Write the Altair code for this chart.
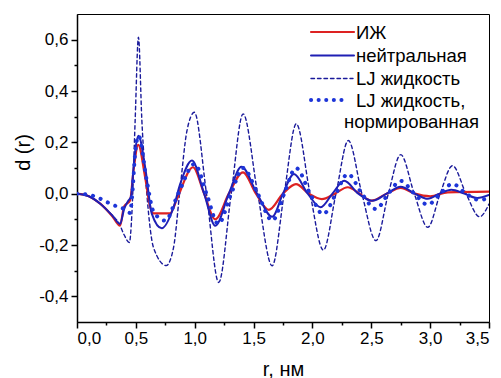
import altair as alt
import pandas as pd

# ---- data ----
series_names = ["ИЖ", "нейтральная", "LJ жидкость", "LJ жидкость, нормированная"]

r_ij = [0.0, 0.1, 0.2, 0.3, 0.366, 0.40, 0.451, 0.48, 0.52, 0.579, 0.622, 0.65, 0.79, 0.85,
        0.985, 1.08, 1.175, 1.29, 1.41, 1.52, 1.63, 1.75, 1.86, 1.97, 2.08, 2.19, 2.30, 2.40,
        2.50, 2.63, 2.75, 2.87, 3.0, 3.15, 3.5]
d_ij = [0.0, -0.01, -0.04, -0.088, -0.125, -0.05, -0.027, 0.09, 0.19, 0.064, -0.053, -0.077, -0.077, -0.02,
        0.103, 0.0, -0.1, 0.0, 0.083, 0.0, -0.063, 0.0, 0.037, 0.0, -0.021, 0.0, 0.025, 0.0,
        -0.027, 0.0, 0.022, 0.0, -0.01, 0.005, 0.008]

r_neu = [0.0, 0.1, 0.2, 0.3, 0.366, 0.40, 0.437, 0.46, 0.48, 0.522, 0.579, 0.636, 0.72, 0.82,
         0.877, 0.977, 1.08, 1.175, 1.29, 1.397, 1.53, 1.658, 1.75, 1.843, 1.96, 2.07, 2.17,
         2.27, 2.39, 2.51, 2.63, 2.75, 2.87, 2.98, 3.08, 3.18, 3.29, 3.40, 3.5]
d_neu = [0.0, -0.01, -0.04, -0.085, -0.118, -0.06, -0.027, -0.01, 0.1, 0.226, 0.103, -0.079, -0.135, -0.053,
         0.038, 0.129, 0.0, -0.125, 0.0, 0.105, 0.0, -0.09, 0.0, 0.077, 0.0, -0.053, 0.0,
         0.05, 0.0, -0.028, 0.0, 0.027, 0.0, -0.02, 0.0, 0.015, 0.0, -0.017, -0.005]

r_lj = [0.0, 0.1, 0.2, 0.3, 0.36, 0.40, 0.445, 0.466, 0.494, 0.522, 0.551, 0.593, 0.65, 0.758,
        0.82, 0.877, 0.934, 0.997, 1.10, 1.204, 1.31, 1.411, 1.535, 1.658, 1.76, 1.863, 1.98,
        2.093, 2.20, 2.305, 2.42, 2.54, 2.645, 2.75, 2.865, 2.98, 3.085, 3.19, 3.305, 3.42, 3.5]
d_lj = [0.0, -0.01, -0.04, -0.085, -0.118, -0.16, -0.19, -0.08, 0.285, 0.61, 0.285, 0.0, -0.21, -0.28,
        -0.21, 0.025, 0.245, 0.317, 0.0, -0.346, 0.0, 0.311, 0.0, -0.281, 0.0, 0.272, 0.0,
        -0.22, 0.0, 0.207, 0.0, -0.183, 0.0, 0.152, 0.0, -0.131, 0.0, 0.109, 0.0, -0.09, -0.04]

r_ljn = [0.0, 0.1, 0.2, 0.3, 0.4, 0.45, 0.47, 0.494, 0.522, 0.593, 0.65, 0.75, 0.86, 1.0,
         1.10, 1.20, 1.31, 1.41, 1.535, 1.66, 1.76, 1.86, 1.98, 2.09, 2.20, 2.30, 2.42, 2.54,
         2.645, 2.75, 2.865, 2.98, 3.085, 3.19, 3.305, 3.42, 3.5]
d_ljn = [0.0, -0.004, -0.02, -0.043, -0.06, -0.075, 0.0, 0.156, 0.226, 0.05, -0.07, -0.105, 0.0, 0.116,
         0.0, -0.118, 0.0, 0.1, 0.0, -0.105, 0.0, 0.1, 0.0, -0.08, 0.0, 0.077, 0.0, -0.06,
         0.0, 0.05, 0.0, -0.043, 0.0, 0.038, 0.0, -0.025, -0.015]

x_ticks = [0.0, 0.25, 0.5, 0.75, 1.0, 1.25, 1.5, 1.75, 2.0, 2.25, 2.5, 2.75, 3.0, 3.25, 3.5]
y_ticks = [-0.4, -0.3, -0.2, -0.1, 0.0, 0.1, 0.2, 0.3, 0.4, 0.5, 0.6]

FONT = "Liberation Sans"

x_enc = alt.X(
    "r:Q",
    scale=alt.Scale(domain=[0, 3.5], nice=False, zero=False),
    axis=alt.Axis(
        values=x_ticks,
        labelExpr="round(datum.value*4) % 2 == 0 ? replace(format(datum.value, '.1f'), '.', ',') : ''",
        tickSize={"condition": {"test": "round(datum.value*4) % 2 == 0", "value": 6}, "value": 3},
        title="r, нм",
        titleY=53,
        titleBaseline="alphabetic",
        labelPadding=2,
        labelOverlap=False,
    ),
)
y_enc = alt.Y(
    "d:Q",
    scale=alt.Scale(domain=[-0.5, 0.7], nice=False, zero=False),
    axis=alt.Axis(
        values=y_ticks,
        labelExpr="round(datum.value*10) % 2 == 0 ? replace(replace(format(datum.value, '.1f'), '.', ','), '\u2212', '-') : ''",
        tickSize={"condition": {"test": "round(datum.value*10) % 2 == 0", "value": 6}, "value": 3},
        title="d (r)",
        titleX=-48,
        titleY=138,
        titleBaseline="alphabetic",
        labelPadding=3,
        labelOverlap=False,
    ),
)


def line(r, d, name, color, width, dash=None):
    df = pd.DataFrame({"r": r, "d": d, "series": name})
    kw = dict(interpolate="monotone", color=color, strokeWidth=width, strokeCap="round", clip=True)
    if dash is not None:
        kw["strokeDash"] = dash
    return alt.Chart(df).mark_line(**kw).encode(x=x_enc, y=y_enc, detail="series:N")


RED = "#dd2222"
BLUE = "#1f1fb4"
NAVY = "#1a1a9a"
DOT = "#1d35d8"

c_lj = line(r_lj, d_lj, series_names[2], NAVY, 1.4, [3.5, 3])
c_ij = line(r_ij, d_ij, series_names[0], RED, 2.2)
c_neu = line(r_neu, d_neu, series_names[1], BLUE, 2.0)
c_ljn = line(r_ljn, d_ljn, series_names[3], DOT, 4.0, [0.1, 8])

# ---- manual legend ----
one = pd.DataFrame({"k": [0]})


def leg_rule(y, color, width, x1, x2, dash=None):
    kw = dict(color=color, strokeWidth=width, strokeCap="round")
    if dash is not None:
        kw["strokeDash"] = dash
    return alt.Chart(one).mark_rule(**kw).encode(x=alt.value(x1), x2=alt.value(x2), y=alt.value(y))


def leg_text(y, x, txt):
    return alt.Chart(one).mark_text(
        text=txt, align="left", baseline="middle", font=FONT, fontSize=18.5, color="black"
    ).encode(x=alt.value(x), y=alt.value(y))


legend = [
    leg_rule(18, RED, 2.2, 234, 277),
    leg_rule(41.5, BLUE, 2.0, 234, 277),
    leg_rule(64.5, NAVY, 1.4, 234, 276, [3.5, 3]),
    leg_rule(86, DOT, 4.0, 234, 272, [0.1, 7.5]),
    leg_text(18.5, 279, series_names[0]),
    leg_text(42, 279, series_names[1]),
    leg_text(65, 279, series_names[2]),
    leg_text(86.5, 279, "LJ жидкость,"),
    leg_text(108, 267, "нормированная"),
]

chart = alt.layer(c_lj, c_ij, c_neu, c_ljn, *legend).properties(
    width=412,
    height=308,
    autosize=alt.AutoSizeParams(type="none"),
    padding={"left": 77, "top": 14, "right": 12, "bottom": 56},
    background="white",
).configure_view(
    stroke="black", strokeWidth=1
).configure_axis(
    grid=False,
    domainColor="black",
    domainWidth=1.5,
    tickColor="black",
    tickWidth=1.5,
    labelColor="black",
    labelFont=FONT,
    labelFontSize=17,
    titleFont=FONT,
    titleFontSize=20,
    titleFontWeight="normal",
    titleColor="black",
)

chart.save("out.html", embed_options={"renderer": "svg", "actions": False})
